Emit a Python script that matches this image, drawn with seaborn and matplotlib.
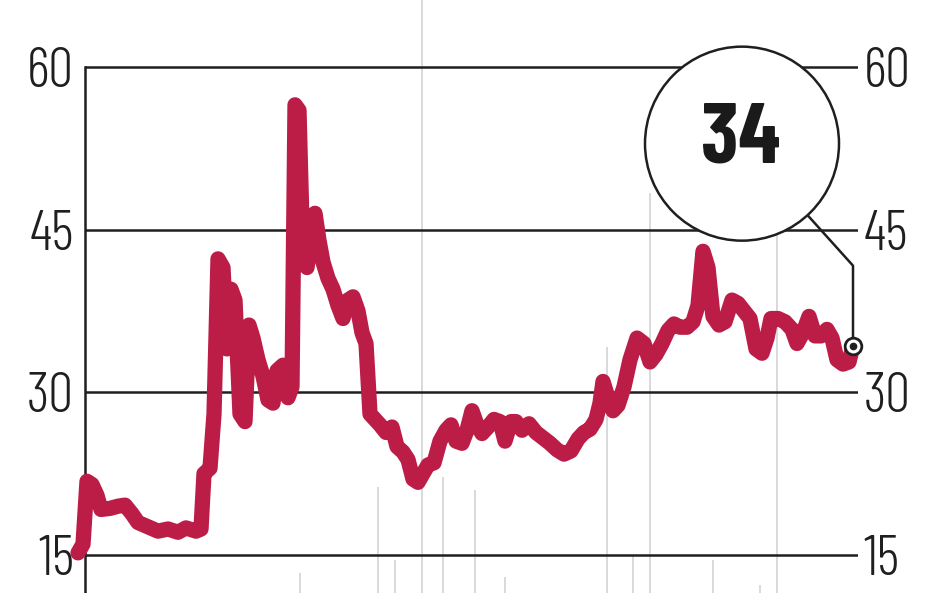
import seaborn as sns
import matplotlib.pyplot as plt
from matplotlib.patches import Circle
from matplotlib.lines import Line2D
from matplotlib.transforms import ScaledTranslation

# trading days since start of the window
days = [0, 5, 9, 14, 19, 23, 32, 40, 47, 54,
        60, 70, 80, 90, 100, 108, 118, 123, 126, 132,
        136, 140, 145, 149, 153, 157, 162, 167, 171, 175,
        180, 185, 190, 195, 199, 205, 210, 214, 217, 221,
        225, 229, 233, 237, 241, 245, 250, 255, 260, 265,
        270, 275, 280, 284, 288, 292, 297, 302, 308, 314,
        319, 325, 330, 335, 340, 345, 350, 356, 362, 368,
        373, 378, 384, 389, 394, 399, 404, 410, 416, 422,
        427, 433, 438, 444, 451, 458, 465, 472, 479, 486,
        493, 500, 506, 512, 518, 522, 525, 530, 535, 540,
        546, 552, 559, 566, 572, 578, 584, 590, 596, 602,
        609, 615, 620, 625, 630, 635, 641, 647, 654, 660,
        666, 672, 678, 684, 689, 693, 700, 707, 714, 719,
        725, 731, 737, 743, 749, 754, 759, 765, 771, 775]

pe_ratio = [15.2, 16.0, 21.8, 21.5, 20.5, 19.2, 19.3, 19.5, 19.6, 18.8,
            18.0, 17.6, 17.2, 17.4, 17.1, 17.5, 17.2, 17.4, 22.5, 23.0,
            28.0, 42.3, 41.5, 34.0, 39.5, 38.5, 28.0, 27.3, 36.2, 35.0,
            33.0, 31.5, 29.3, 29.0, 32.0, 32.5, 29.5, 30.5, 56.5, 56.0,
            42.0, 41.5, 44.0, 46.5, 44.0, 42.0, 40.5, 39.5, 38.0, 36.8,
            38.5, 38.8, 37.5, 35.5, 34.5, 28.0, 27.5, 27.0, 26.3, 26.8,
            25.0, 24.5, 23.8, 22.0, 21.7, 22.5, 23.3, 23.5, 25.5, 26.5,
            27.0, 25.5, 25.3, 26.5, 28.3, 27.0, 26.2, 26.8, 27.5, 27.3,
            25.5, 27.3, 27.3, 26.5, 27.1, 26.3, 25.8, 25.3, 24.7, 24.3,
            24.6, 25.7, 26.3, 26.6, 27.5, 29.0, 31.0, 29.5, 28.3, 28.8,
            30.5, 33.0, 35.0, 34.5, 32.8, 33.5, 34.5, 35.7, 36.3, 36.0,
            36.0, 36.5, 38.0, 43.0, 41.5, 37.0, 36.2, 36.5, 38.5, 38.2,
            37.5, 36.8, 34.0, 33.6, 35.0, 36.8, 36.8, 36.5, 35.8, 34.5,
            35.5, 37.0, 35.2, 35.2, 35.8, 35.0, 33.0, 32.6, 32.8, 34.3]

# faint volume bars from the panel below
vol_days = [222, 300, 317, 344, 365, 397, 427, 529, 555, 572, 635, 682, 699]
vol_height = [20, 106, 33, 593, 116, 103, 16, 246, 38, 400, 33, 8, 390]

y_ticks = [15, 30, 45, 60]
latest_label = '34'

RED = '#BC1D47'
INK = '#1f1f1f'
FONT = ['Barlow Condensed', 'Roboto Condensed', 'Archivo Narrow', 'DejaVu Sans']

sns.set_style('white')
plt.rcParams['font.family'] = FONT

fig = plt.figure(figsize=(9.48, 5.93), dpi=100)

# volume bars behind everything, full figure height
ax_vol = fig.add_axes([85 / 948, 0, 773 / 948, 1])
ax_vol.bar(vol_days, vol_height, width=2, color='#dadada', linewidth=0)
ax_vol.set_xlim(7, 780)
ax_vol.set_ylim(0, 593)
ax_vol.axis('off')

ax = fig.add_axes([85 / 948, 0, 773 / 948, 537 / 593])
ax.patch.set_alpha(0)

sns.lineplot(x=days, y=pe_ratio, ax=ax, color=RED, linewidth=11,
             solid_capstyle='round', solid_joinstyle='round', zorder=3)
ax.lines[-1].set_clip_on(False)

ax.set_xlim(7, 780)
ax.set_ylim(11.5, 61)
ax.set_yticks(y_ticks)
ax.set_xticks([])
ax.set_xlabel('')
ax.set_ylabel('')
ax.yaxis.grid(True, color=INK, linewidth=1.8, zorder=1)
ax.set_axisbelow(True)
ax.tick_params(axis='y', length=0, pad=8, labelsize=40, labelcolor=INK)
for s in ['top', 'right', 'bottom']:
    ax.spines[s].set_visible(False)
ax.spines['left'].set_color(INK)
ax.spines['left'].set_linewidth(1.8)
ax.spines['left'].set_bounds(11.5, 60)

ax2 = ax.twinx()
ax2.set_ylim(11.5, 61)
ax2.set_yticks(y_ticks)
ax2.tick_params(axis='y', length=0, pad=4, labelsize=40, labelcolor=INK)
for s in ax2.spines.values():
    s.set_visible(False)

for lab in ax.get_yticklabels() + ax2.get_yticklabels():
    lab.set_fontweight(300)

# latest value marker
ax.plot(days[-1], pe_ratio[-1], 'o', ms=12, mfc='white', mec=INK, mew=2,
        zorder=6, clip_on=False)
ax.plot(days[-1], pe_ratio[-1], 'o', ms=4.5, color=INK, zorder=7, clip_on=False)

# callout bubble, placed in inches relative to the last point
trans = fig.dpi_scale_trans + ScaledTranslation(days[-1], pe_ratio[-1], ax.transData)
ax.add_artist(Circle((-1.11, 2.02), 0.97, transform=trans, fc='white', ec=INK,
                     lw=1.8, zorder=5, clip_on=False))
ax.add_artist(Line2D([0, 0, -0.45], [0.08, 0.80, 1.30], transform=trans,
                     color=INK, lw=1.8, zorder=5, clip_on=False))
ax.text(-1.12, 2.05, latest_label, transform=trans, ha='center', va='center',
        fontsize=62, fontweight='bold', color='#1a1a1a', zorder=6, clip_on=False)

fig.savefig('out.png', dpi=100)
